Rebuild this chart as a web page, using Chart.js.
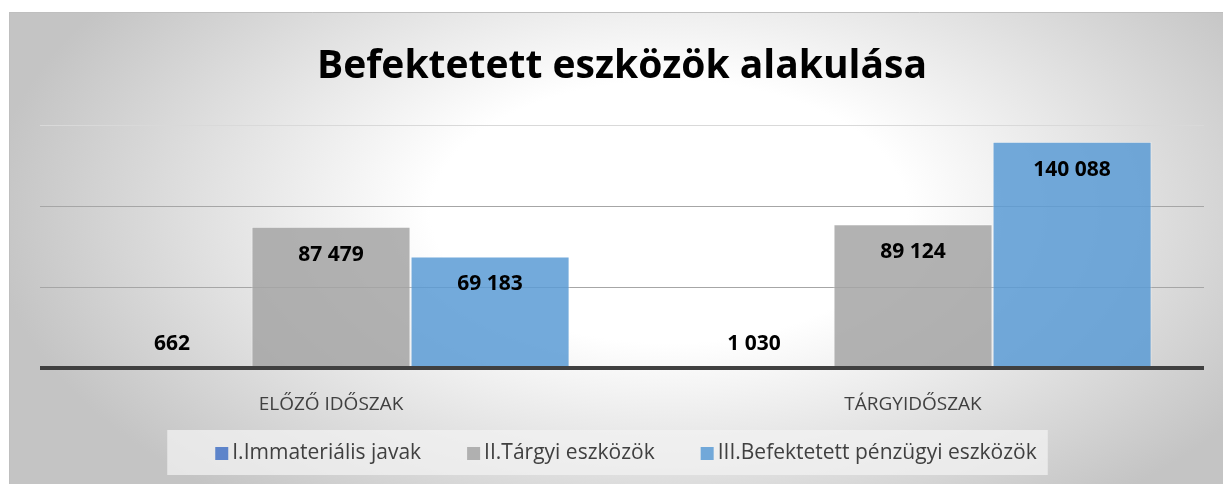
<!DOCTYPE html>
<html>
<head>
<meta charset="utf-8">
<script src="https://cdn.jsdelivr.net/npm/chart.js@4"></script>
<style>
	body { margin: 0; background: #ffffff; }
	#wrap { position: absolute; left: 9px; top: 12px; width: 1214px; height: 472px; }
</style>
</head>
<body>
<div id="wrap"><canvas id="myChart" width="1214" height="472"></canvas></div>
<script>
var categories = ["ELŐZŐ IDŐSZAK", "TÁRGYIDŐSZAK"];
var seriesNames = ["I.Immateriális javak", "II.Tárgyi eszközök", "III.Befektetett pénzügyi eszközök"];
var immaterialis = [662, 1030];
var targyi = [87479, 89124];
var penzugyi = [69183, 140088];
var colors = ["rgba(68,114,196,0.85)", "rgba(165,165,165,0.85)", "rgba(91,155,213,0.85)"];
var title = "Befektetett eszközök alakulása";

function fmt(v) {
	return String(v).replace(/\B(?=(\d{3})+(?!\d))/g, " ");
}

// background, baseline, legend and value labels
var decor = {
	id: "decor",
	beforeDraw: function(chart) {
		var ctx = chart.ctx;
		var w = chart.width, h = chart.height;
		ctx.save();
		ctx.translate(660, 200);
		ctx.scale(1, 0.55);
		var g = ctx.createRadialGradient(0, 0, 0, 0, 0, 680);
		g.addColorStop(0, "#ffffff");
		g.addColorStop(0.35, "#ffffff");
		g.addColorStop(1, "#c4c4c4");
		ctx.fillStyle = g;
		ctx.fillRect(-700, -600, 1400, 1400);
		ctx.restore();
		ctx.save();
		ctx.strokeStyle = "#bfbfbf";
		ctx.lineWidth = 1;
		ctx.beginPath();
		ctx.moveTo(0, 0.5);
		ctx.lineTo(w, 0.5);
		ctx.moveTo(0.5, 0);
		ctx.lineTo(0.5, h);
		ctx.stroke();
		ctx.restore();
	},
	afterDatasetsDraw: function(chart) {
		var ctx = chart.ctx;
		var area = chart.chartArea;
		var y0 = Math.round(chart.scales.y.getPixelForValue(0));
		ctx.save();
		ctx.fillStyle = "#404040";
		ctx.fillRect(area.left, y0 - 2, area.right - area.left, 4);
		ctx.restore();
	},
	afterDraw: function(chart) {
		var ctx = chart.ctx;
		ctx.save();
		// legend
		ctx.font = "21px 'Open Sans'";
		var box = 13, gap = 4, spacing = 46;
		var total = 0;
		var widths = [];
		for (var i = 0; i < seriesNames.length; i++) {
			var tw = ctx.measureText(seriesNames[i]).width;
			widths.push(tw);
			total += box + gap + tw;
			if (i > 0) total += spacing;
		}
		var x = 617 - total / 2;
		var cy = 441.5;
		ctx.fillStyle = "rgba(242,242,242,0.75)";
		ctx.fillRect(x - 48, 418, total + 59, 45);
		ctx.textBaseline = "middle";
		ctx.textAlign = "left";
		for (var i = 0; i < seriesNames.length; i++) {
			ctx.fillStyle = colors[i];
			ctx.fillRect(x, cy - box / 2, box, box);
			ctx.fillStyle = "#404040";
			ctx.fillText(seriesNames[i], x + box + gap, cy);
			x += box + gap + widths[i] + spacing;
		}
		// value labels
		ctx.font = "bold 21px 'Open Sans'";
		ctx.fillStyle = "#000000";
		ctx.textAlign = "center";
		chart.data.datasets.forEach(function(ds, di) {
			var meta = chart.getDatasetMeta(di);
			meta.data.forEach(function(bar, j) {
				var y = (bar.base - bar.y > 45) ? bar.y + 28 : bar.y - 23;
				ctx.fillText(fmt(ds.data[j]), bar.x, y);
			});
		});
		ctx.restore();
	}
};

var ctx = document.getElementById("myChart");

var myChart = new Chart(ctx, {
	type: "bar",
	data: {
		labels: categories,
		datasets: [
			{ label: seriesNames[0], data: immaterialis, backgroundColor: colors[0] },
			{ label: seriesNames[1], data: targyi, backgroundColor: colors[1] },
			{ label: seriesNames[2], data: penzugyi, backgroundColor: colors[2] }
		]
	},
	options: {
		responsive: false,
		animation: false,
		events: [],
		layout: { padding: { left: 31, right: 19, bottom: 43 } },
		datasets: {
			bar: {
				categoryPercentage: 0.82,
				barPercentage: 1.0,
				borderWidth: 1,
				borderColor: "rgba(255,255,255,0.45)"
			}
		},
		plugins: {
			legend: { display: false },
			tooltip: { enabled: false },
			title: {
				display: true,
				text: title,
				color: "#000000",
				font: { family: "'Open Sans'", size: 39, weight: "bold", lineHeight: 1.2 },
				padding: { top: 31, bottom: 36 }
			}
		},
		scales: {
			x: {
				grid: { display: false, drawTicks: false },
				border: { display: false },
				ticks: { color: "#404040", font: { family: "'Open Sans'", size: 19 }, padding: 25 }
			},
			y: {
				min: 0,
				max: 150000,
				ticks: { display: false, stepSize: 50000 },
				border: { display: false },
				grid: {
					drawTicks: false,
					lineWidth: 1,
					color: function(c) {
						if (c.tick.value === 0) return "rgba(0,0,0,0)";
						if (c.tick.value === 150000) return "#d9d9d9";
						return "#a6a6a6";
					}
				}
			}
		}
	},
	plugins: [decor]
});
</script>
</body>
</html>
